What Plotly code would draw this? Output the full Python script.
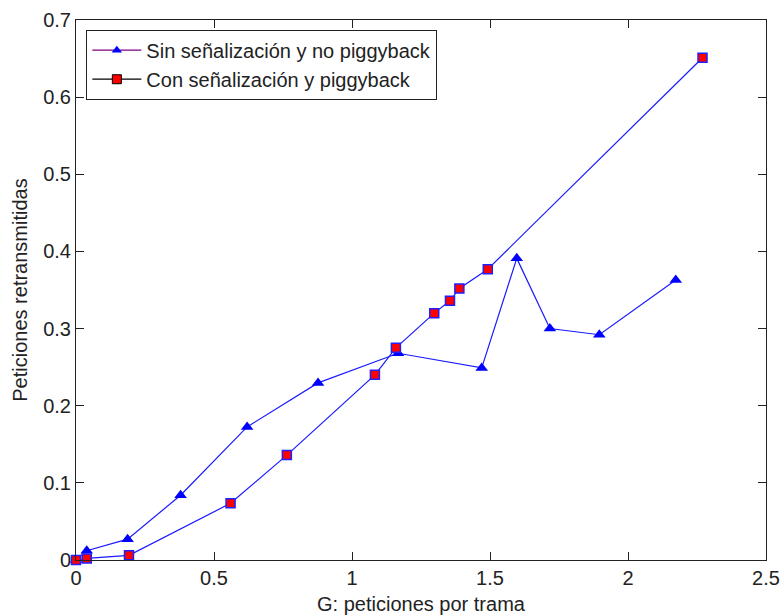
import plotly.graph_objects as go

# Data
g_sin = [0, 0.039, 0.187, 0.379, 0.62, 0.877, 1.167, 1.47, 1.597, 1.717, 1.896, 2.173]
r_sin = [0, 0.012, 0.027, 0.084, 0.1725, 0.2296, 0.268, 0.249, 0.391, 0.300, 0.292, 0.363]

g_con = [0, 0.039, 0.192, 0.56, 0.764, 1.083, 1.159, 1.298, 1.355, 1.389, 1.492, 2.27]
r_con = [0, 0.002, 0.006, 0.0735, 0.136, 0.240, 0.275, 0.320, 0.336, 0.352, 0.377, 0.651]

name_sin = "Sin señalización y no piggyback"
name_con = "Con señalización y piggyback"
x_title = "G: peticiones por trama"
y_title = "Peticiones retransmitidas"

FONT = "Liberation Sans, Arial, sans-serif"
BLUE = "#1a1aff"
TXT = "#222222"

fig = go.Figure()
fig.add_trace(go.Scatter(
    x=g_sin, y=r_sin, mode="lines+markers", showlegend=False,
    line=dict(color=BLUE, width=1.2),
    marker=dict(symbol="triangle-up", size=11, color="#0000ff",
                line=dict(color="#0000ff", width=0)),
    cliponaxis=False,
))
fig.add_trace(go.Scatter(
    x=g_con, y=r_con, mode="lines+markers", showlegend=False,
    line=dict(color=BLUE, width=1.2),
    marker=dict(symbol="square", size=9, color="#ff0000",
                line=dict(color="#2020ff", width=1.5)),
    cliponaxis=False,
))
# Legend entries (the legend in the reference shows different line colours)
fig.add_trace(go.Scatter(
    x=[None], y=[None], mode="lines+markers", name=name_sin,
    line=dict(color="#800080", width=1.2),
    marker=dict(symbol="triangle-up", size=9, color="#0000ff", line=dict(width=0)),
))
fig.add_trace(go.Scatter(
    x=[None], y=[None], mode="lines+markers", name=name_con,
    line=dict(color="#000000", width=1.2),
    marker=dict(symbol="square", size=9, color="#ff0000",
                line=dict(color="#000000", width=1)),
))

axis_common = dict(
    showgrid=False, zeroline=False, showline=True, mirror="allticks",
    linecolor=TXT, linewidth=1, ticks="inside", ticklen=8,
    tickcolor=TXT, tickwidth=1, automargin=False,
    tickfont=dict(family=FONT, size=20, color=TXT),
)

fig.update_layout(
    width=781, height=615,
    margin=dict(l=76, r=15, t=20, b=55),
    paper_bgcolor="white", plot_bgcolor="white",
    font=dict(family=FONT, size=20, color=TXT),
    xaxis=dict(range=[0, 2.5], dtick=0.5, tick0=0,
               title=dict(text=x_title, standoff=10,
                          font=dict(family=FONT, size=20, color=TXT)),
               **axis_common),
    yaxis=dict(range=[0, 0.7], dtick=0.1, tick0=0,
               title=dict(text=y_title, standoff=10,
                          font=dict(family=FONT, size=20, color=TXT)),
               **axis_common),
    legend=dict(x=0.015, y=0.982, xanchor="left", yanchor="top",
                bgcolor="white", bordercolor=TXT, borderwidth=1,
                font=dict(family=FONT, size=20, color=TXT),
                tracegroupgap=0, itemwidth=49),
)

fig.write_html("out.html")
